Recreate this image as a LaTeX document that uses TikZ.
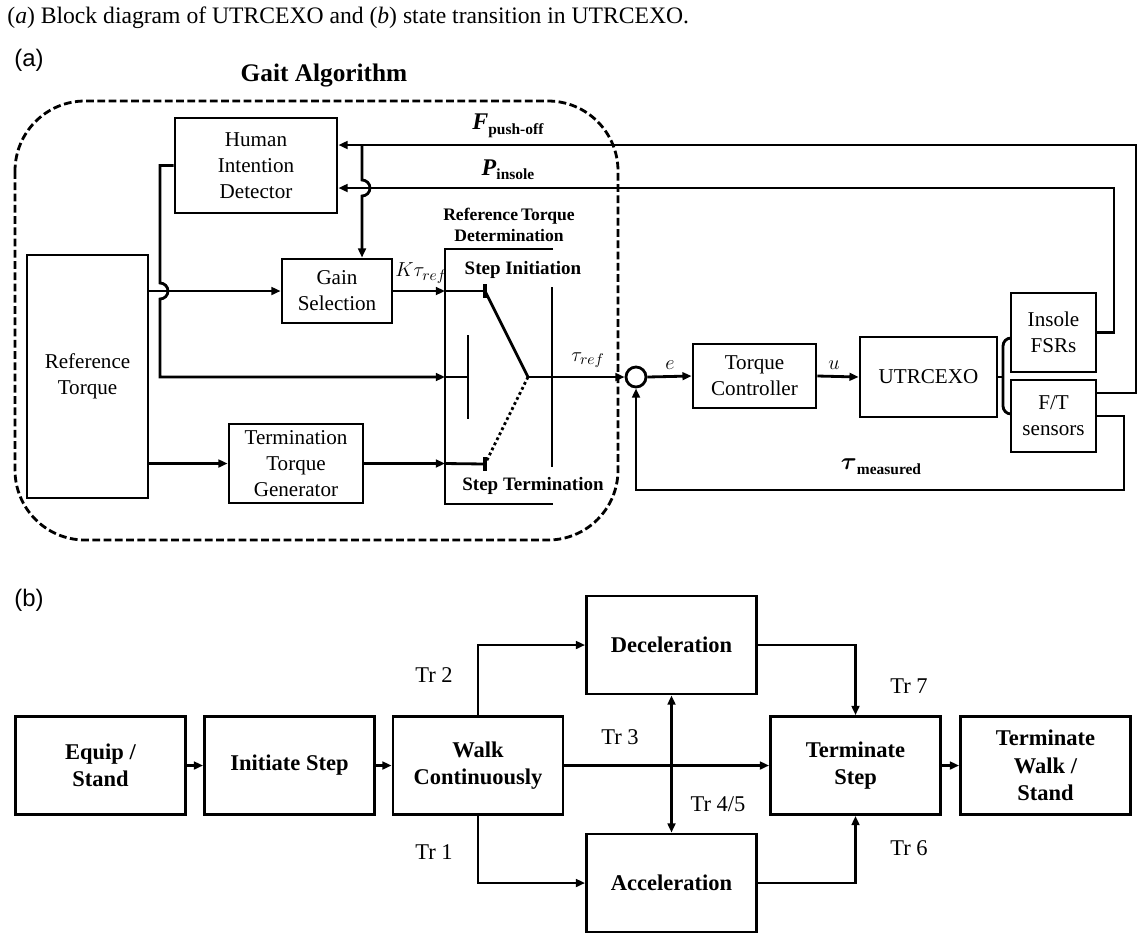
\documentclass[tikz,border=0pt]{standalone}
\usepackage{amsmath}
\usepackage{fontspec}
\setmainfont{Liberation Serif}
\newfontfamily\panelfont{Liberation Sans}
\usetikzlibrary{arrows.meta}
\usetikzlibrary{calc}

\begin{document}
\begin{tikzpicture}[x=0.025cm,y=-0.025cm,line width=2pt,
  >={Triangle[length=6.5pt,width=5.5pt]},
  blk/.style={draw,align=center,inner sep=0pt,font=\fontsize{15}{18.5}\selectfont},
  state/.style={draw,align=center,inner sep=0pt,minimum width=4.25cm,minimum height=2.45cm,
    font=\fontsize{16}{19.5}\selectfont\bfseries},
  tr/.style={font=\fontsize{16}{19}\selectfont},
  hdr/.style={font=\fontsize{13.5}{15}\selectfont\bfseries},
  sig/.style={font=\fontsize{15}{17}\selectfont}]
\useasboundingbox (0,0) rectangle (1142,943);
\node[anchor=west,inner sep=0pt,font=\fontsize{16.8}{19}\selectfont] (cap) at (6,18)
  {(\textit{a}) Block diagram of UTRCEXO and (\textit{b}) state transition in UTRCEXO.};
\node[font=\fontsize{17}{19}\selectfont\panelfont] (pa) at (29,60) {(a)};
\node[font=\fontsize{17}{19}\selectfont\panelfont] (pb) at (29,600) {(b)};
% (a) block diagram
\draw[dashed,dash pattern=on 5.5pt off 2.5pt,rounded corners=1.75cm] (15,101) rectangle (618,540);
\node[font=\fontsize{18}{20}\selectfont\bfseries] (gait) at (324,76) {Gait Algorithm};
\node[blk,minimum width=4.05cm,minimum height=2.375cm] (hid) at (256,165.5) {Human\\Intention\\Detector};
\node[blk,minimum width=3.025cm,minimum height=6.075cm] (reft) at (87.5,376.5) {Reference\\Torque};
\node[blk,minimum width=2.75cm,minimum height=1.6cm] (gain) at (337,291) {Gain\\Selection};
\node[blk,minimum width=3.35cm,minimum height=1.975cm] (ttg) at (296,463.5) {Termination\\Torque\\Generator};
\node[blk,minimum width=3.075cm,minimum height=1.6cm] (tc) at (754.5,376) {Torque\\Controller};
\node[blk,minimum width=3.425cm,minimum height=2cm] (exo) at (928.5,377) {UTRCEXO};
\node[blk,minimum width=2.125cm,minimum height=1.975cm] (ins) at (1053.5,332.5) {Insole\\FSRs};
\node[blk,minimum width=2.125cm,minimum height=1.8cm] (ft) at (1053.5,416) {F/T\\sensors};
\node[draw,circle,minimum size=0.5cm,inner sep=0pt] (sum) at (636,377) {};
\node[font=\fontsize{12.5}{14.5}\selectfont\bfseries,align=center] (rtd) at (509,225) {Reference\,Torque\\Determination};
\node[hdr] (sti) at (523,270) {Step Initiation};
\node[hdr] (stt) at (533,486) {Step Termination};
\coordinate (bt) at (445,249);
\coordinate (bb) at (445,504);
\coordinate (sw1) at (485,291);
\coordinate (sw2) at (468,377);
\coordinate (sw3) at (485,464);
\coordinate (swc) at (528,377);
\coordinate (fp) at (1136,145);
\coordinate (pin) at (1114,188);
\coordinate (gv) at (362,145);
\coordinate (fb) at (1124,490);
\draw (553,249) -- (bt) -- (bb) -- (553,504);
\draw[line width=2.6pt] (sw1 |- 0,284) -- (sw1 |- 0,298);
\draw[line width=2.6pt] (sw3 |- 0,457) -- (sw3 |- 0,471);
\draw (sw2 |- 0,335) -- (sw2 |- 0,419);
\draw (552,287) -- (552,467);
\draw (sw1) -- (swc);
\draw[dotted] (swc) -- (sw3);
\draw[->] (gain.east) -- (gain.east -| bt);
\draw (gain.east -| bt) -- (sw1);
\draw[->] (ttg.east) -- (ttg.east -| bt);
\draw (ttg.east -| bt) -- (sw3);
\draw[->] (reft.east |- gain.west) -- (gain.west);
\draw[->] (reft.east |- ttg.west) -- (ttg.west);
\draw[->] (hid.west) -- (160,165.5) -- (160,283) arc[start angle=90,end angle=-90,radius=0.2cm]
  -- (160,377) -- (sw2 -| bt);
\draw (sw2 -| bt) -- (sw2);
\draw[->] (swc) -- (sum.west);
\draw[->] (sum.east) -- (tc.west);
\draw[->] (tc.east) -- (exo.west);
\draw (exo.east) -- (1003,377);
\draw (1011,338) to[out=180,in=90] (1003,346) -- (1003,406) to[out=-90,in=180] (1011,414);
\draw[->] ([yshift=0.575cm]ft.east) -| (fp) -- (hid.east |- fp);
\draw[->] (ins.east) -| (pin) -- (hid.east |- pin);
\draw[->] (gv) -- (362,180) arc[start angle=90,end angle=-90,radius=0.2cm] -- (gain.north -| gv);
\draw[->] (ft.east) -| (fb) -| (sum.south);
\node[sig] (kt) at (421,273) {$K\tau_{ref}$};
\node[sig] (tref) at (588,360) {$\tau_{ref}$};
\node[sig] (le) at (670,365) {$e$};
\node[sig] (lu) at (834,365) {$u$};
\node (lf) at (508,126) {\fontsize{17}{19}\selectfont\textbf{\textit{F}}\raisebox{-0.4ex}{\fontsize{11}{12}\selectfont\textbf{push-off}}};
\node (lp) at (508,170) {\fontsize{17}{19}\selectfont\textbf{\textit{P}}\raisebox{-0.4ex}{\fontsize{11}{12}\selectfont\textbf{insole}}};
\node (lm) at (881,467) {\fontsize{18}{19}\selectfont$\boldsymbol{\tau}$\raisebox{-0.4ex}{\fontsize{11}{12}\selectfont\textbf{measured}}};
% (b) state transition
\node[state] (eq) at (100.5,765.5) {Equip /\\Stand};
\node[state] (ini) at (289.5,765.5) {Initiate Step};
\node[state] (walk) at (478,765.5) {Walk\\Continuously};
\node[state] (dec) at (671.5,645) {Deceleration};
\node[state] (acc) at (671.5,883) {Acceleration};
\node[state] (term) at (855.5,765.5) {Terminate\\Step};
\node[state] (tws) at (1045.5,765.5) {Terminate\\Walk /\\Stand};
\draw
  (eq) edge [->] (ini)
  (ini) edge [->] (walk)
  (walk) edge [->] (term)
  (dec) edge [<->] (acc)
  (term) edge [->] (tws);
\draw[->] (walk.north) |- (dec.west);
\draw[->] (walk.south) |- (acc.west);
\draw[->] (dec.east) -| (term.north);
\draw[->] (acc.east) -| (term.south);
\node[tr] (t1) at (434,852) {Tr 1};
\node[tr] (t2) at (434,675) {Tr 2};
\node[tr] (t3) at (620,737) {Tr 3};
\node[tr] (t45) at (718,804) {Tr 4/5};
\node[tr] (t6) at (909,848) {Tr 6};
\node[tr] (t7) at (909,686) {Tr 7};
\end{tikzpicture}
\end{document}
